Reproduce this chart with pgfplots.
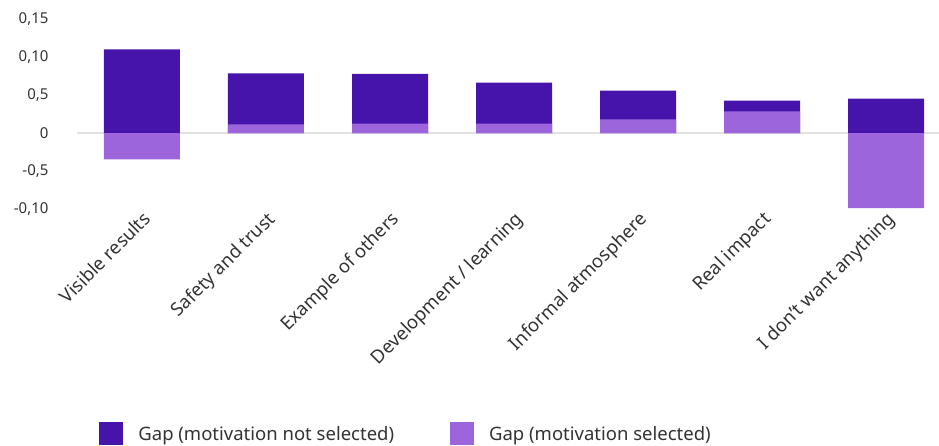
\documentclass[border=0pt]{standalone}
\usepackage{pgfplots}
\pgfplotsset{compat=1.18}
\usepackage{fontspec}
\setmainfont{Noto Sans}
\definecolor{darkp}{HTML}{4714AB}
\definecolor{lightp}{HTML}{9D65DB}
\definecolor{zeroline}{HTML}{E2E2E2}

\begin{document}
\begin{tikzpicture}
\path[use as bounding box] (0,0) rectangle (939pt,446pt);
\begin{axis}[
    at={(77pt,236.7pt)}, anchor=south west,
    scale only axis,
    width=862pt, height=190.3pt,
    ybar, bar width=76pt, bar shift=0pt,
    xmin=-0.524, xmax=6.427,
    ymin=-0.1, ymax=0.15,
    axis line style={draw=none},
    tick style={draw=none},
    xtick={0,...,6},
    xticklabels={Visible results, Safety and trust, Example of others,
      Development / learning, Informal atmosphere, Real impact,
      I don’t want anything},
    xticklabel shift=-5pt,
    xticklabel style={rotate=45, anchor=north east, inner sep=1pt,
      font=\fontsize{18.5}{22}\selectfont, text=black!80},
    ytick={-0.1,-0.05,0,0.05,0.1,0.15},
    yticklabels={{-0,10},{-0,5},{0},{0,5},{0,10},{0,15}},
    yticklabel style={font=\fontsize{15}{18}\selectfont, text=black!80, xshift=-25pt},
    extra y ticks={0}, extra y tick labels={},
    extra y tick style={grid=major, major grid style={draw=zeroline, line width=2pt}},
    legend style={at={(0.0223,-1.18)}, anchor=west, draw=none, legend columns=2,
      font=\fontsize{18.5}{22}\selectfont, text=black!80,
      /tikz/every even column/.append style={column sep=54pt}},
    legend image code/.code={\fill[#1] (0pt,-11pt) rectangle (24pt,12pt);
      \path (37pt,0pt);},
]
\addplot[fill=darkp, draw=none] coordinates {
  (0,0.110) (1,0.0784) (2,0.078) (3,0.0665) (4,0.056) (5,0.0429) (6,0.0455)};
\addplot[fill=lightp, draw=none] coordinates {
  (0,-0.0345) (1,0.0114) (2,0.0126) (3,0.0126) (4,0.018) (5,0.0285) (6,-0.0985)};
\legend{Gap (motivation not selected), Gap (motivation selected)}
\end{axis}
\end{tikzpicture}
\end{document}
